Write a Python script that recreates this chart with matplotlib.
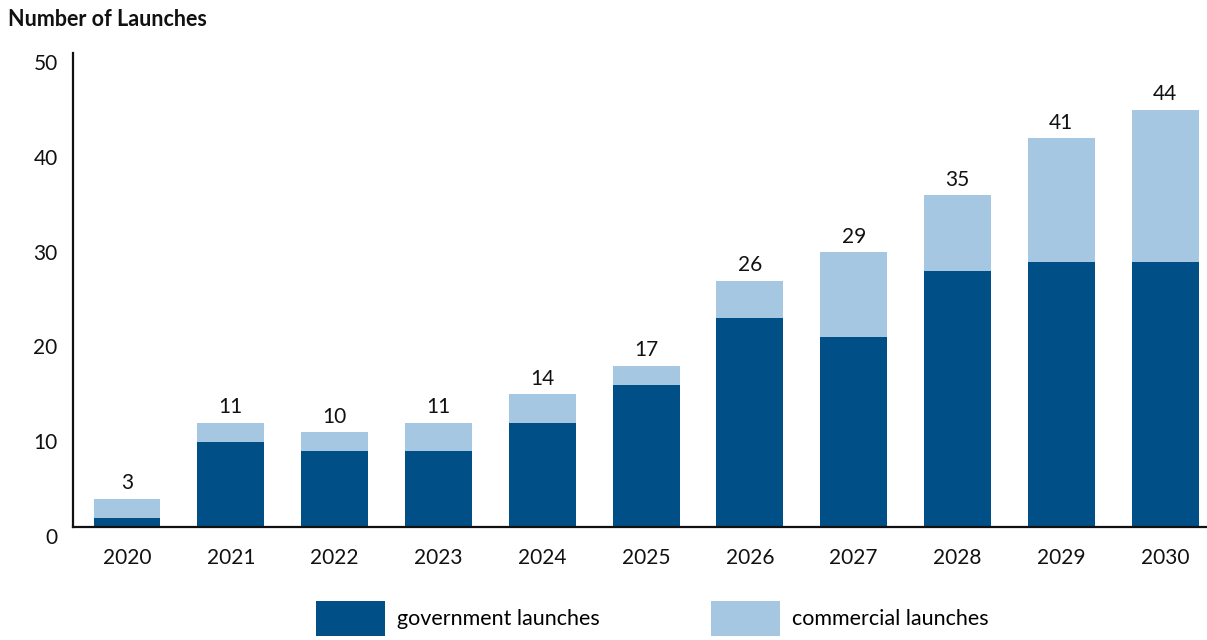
import matplotlib.pyplot as plt
import matplotlib.transforms as mtransforms
import numpy as np

years = ['2020', '2021', '2022', '2023', '2024', '2025', '2026', '2027', '2028', '2029', '2030']
government = [1, 9, 8, 8, 11, 15, 22, 20, 27, 28, 28]
commercial = [2, 2, 2, 3, 3, 2, 4, 9, 8, 13, 16]
totals = [3, 11, 10, 11, 14, 17, 26, 29, 35, 41, 44]

dark = '#004F86'
light = '#A6C7E2'

plt.rcParams['font.family'] = ['Lato', 'DejaVu Sans']

fig = plt.figure(figsize=(12.07, 6.40), dpi=100)
# axes run past the right edge like the original crop
ax = fig.add_axes([73 / 1207, 1 - 527 / 640, 1142 / 1207, 474 / 640])

x = np.arange(len(years))
b1 = ax.bar(x, government, width=0.645, color=dark, label='government launches')
b2 = ax.bar(x, commercial, width=0.645, bottom=government, color=light, label='commercial launches')

for xi, t, g, c in zip(x, totals, government, commercial):
    ax.annotate(str(t), (xi, g + c), xytext=(0, 4), textcoords='offset points',
                ha='center', va='bottom', fontsize=15, color='#111111')

ax.set_xlim(-0.52, 10.48)
ax.set_ylim(0, 50)
ax.set_yticks([0, 10, 20, 30, 40, 50])
ax.set_xticks(x)
ax.set_xticklabels(years)
ax.tick_params(axis='both', length=0, labelsize=15, colors='#111111')
ax.tick_params(axis='x', pad=15)
ax.tick_params(axis='y', pad=11)

off = mtransforms.ScaledTranslation(0, -0.09, fig.dpi_scale_trans)
for lab in ax.get_yticklabels():
    lab.set_transform(lab.get_transform() + off)

for s in ['top', 'right']:
    ax.spines[s].set_visible(False)
for s in ['left', 'bottom']:
    ax.spines[s].set_linewidth(1.6)
    ax.spines[s].set_color('#111111')

fig.text(8 / 1207, 1 - 20 / 640, 'Number of Launches', fontsize=15.5, fontweight='bold',
         ha='left', va='center', color='#111111')

fig.legend(handles=[b1, b2], loc='upper left', bbox_to_anchor=(316 / 1207, 1 - 601 / 640),
           ncol=2, frameon=False, fontsize=15.5, handlelength=3.2, handleheight=2.1,
           handletextpad=0.55, columnspacing=5.2, borderpad=0, borderaxespad=0)

fig.savefig('out.png', dpi=100)
